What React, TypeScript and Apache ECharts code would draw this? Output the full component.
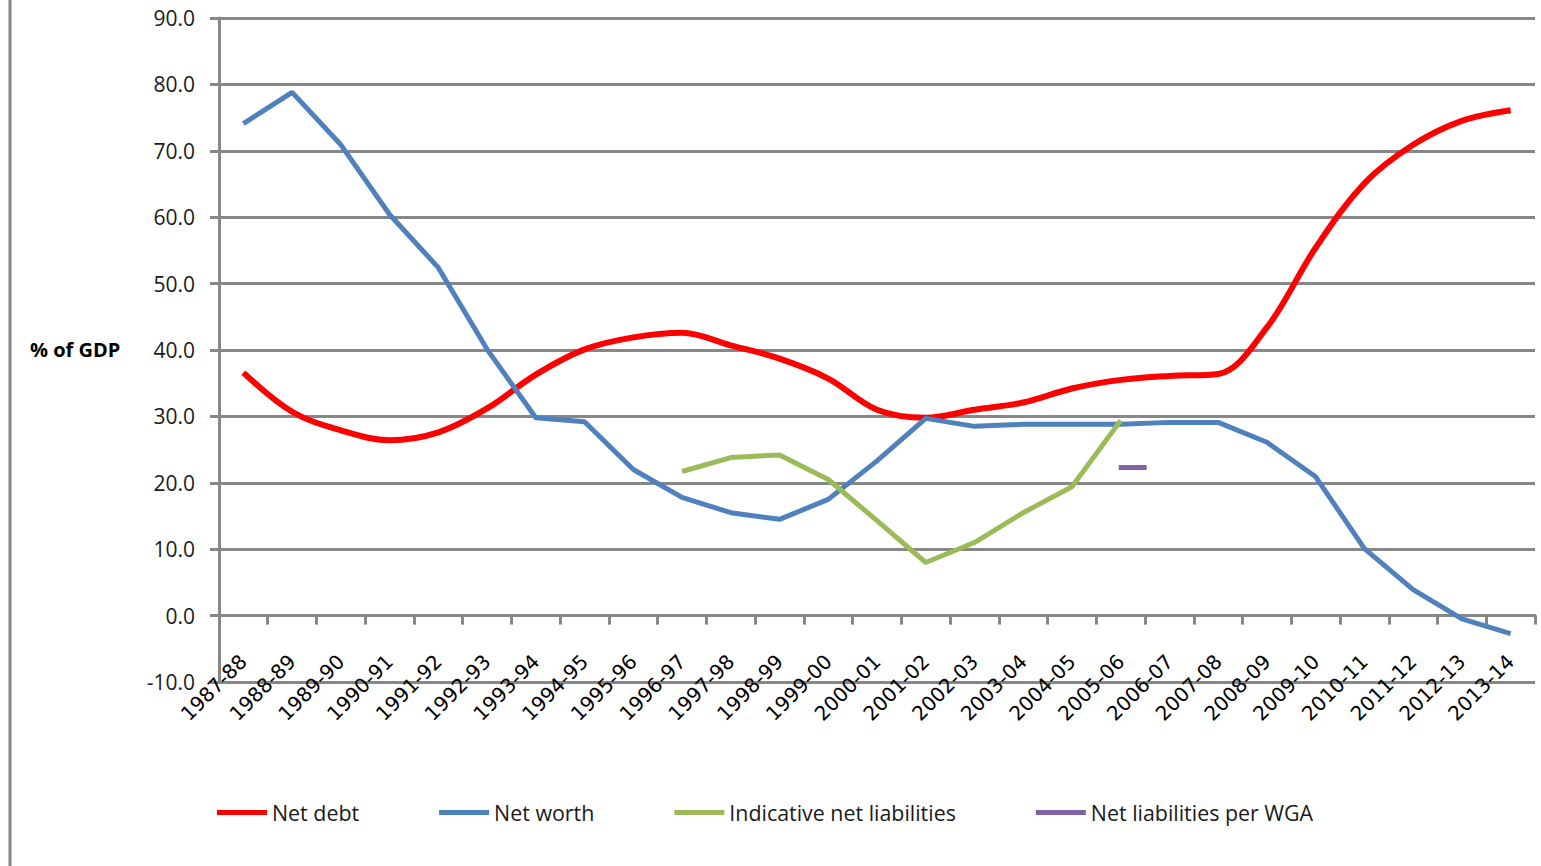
import React, { useEffect, useRef } from "react";
import * as echarts from "echarts";

const categories = [
  "1987-88", "1988-89", "1989-90", "1990-91", "1991-92", "1992-93", "1993-94",
  "1994-95", "1995-96", "1996-97", "1997-98", "1998-99", "1999-00", "2000-01",
  "2001-02", "2002-03", "2003-04", "2004-05", "2005-06", "2006-07", "2007-08",
  "2008-09", "2009-10", "2010-11", "2011-12", "2012-13", "2013-14",
];

const netDebt = [
  36.6, 30.7, 27.9, 26.4, 27.6, 31.2, 36.3, 40.1, 41.9, 42.6, 40.7, 38.7, 35.7,
  31.0, 29.8, 31.0, 32.1, 34.2, 35.5, 36.1, 36.4, 43.4, 55.4, 65.1, 70.9, 74.5, 76.1,
];

const netWorth = [
  74.1, 78.8, 70.9, 60.4, 52.4, 40.1, 29.8, 29.2, 22.0, 17.8, 15.5, 14.5, 17.5,
  23.3, 29.7, 28.5, 28.8, 28.8, 28.8, 29.1, 29.1, 26.1, 20.9, 10.1, 3.9, -0.5, -2.7,
];

const indicativeNetLiabilities = [
  null, null, null, null, null, null, null, null, null,
  21.7, 23.8, 24.2, 20.5, 14.3, 8.0, 11.0, 15.5, 19.4, 29.4,
  null, null, null, null, null, null, null, null,
];

const netLiabilitiesWGA = [
  null, null, null, null, null, null, null, null, null, null, null, null, null,
  null, null, null, null, null, 22.3,
  null, null, null, null, null, null, null, null,
];

const seriesNames = [
  "Net debt",
  "Net worth",
  "Indicative net liabilities",
  "Net liabilities per WGA",
];

const yAxisTitle = "% of GDP";

const GRID = "#878787";
const TEXT = "#1a1a1a";

export default function App() {
  const ref = useRef<HTMLDivElement>(null);

  useEffect(() => {
    if (!ref.current) return;
    const chart = echarts.init(ref.current, null, { renderer: "svg" });
    chart.setOption({
      animation: false,
      backgroundColor: "#ffffff",
      grid: { left: 219, right: 6, top: 18, bottom: 184, containLabel: false },
      xAxis: {
        type: "category",
        data: categories,
        boundaryGap: true,
        axisLine: { show: true, onZero: true, lineStyle: { color: GRID, width: 3 } },
        axisTick: { show: true, interval: 0, length: 9, lineStyle: { color: GRID, width: 3 } },
        axisLabel: {
          interval: 0,
          rotate: 45,
          margin: -24,
          color: "#000000",
          fontFamily: "DejaVu Sans",
          fontSize: 20,
        },
        splitLine: { show: false },
      },
      yAxis: {
        type: "value",
        min: -10,
        max: 90,
        interval: 10,
        axisLine: { show: true, lineStyle: { color: GRID, width: 3 } },
        axisTick: { show: true, length: 9, lineStyle: { color: GRID, width: 3 } },
        axisLabel: {
          margin: 24,
          color: TEXT,
          fontFamily: "Open Sans",
          fontSize: 21,
          formatter: (v: number) => v.toFixed(1),
        },
        splitLine: { show: true, lineStyle: { color: GRID, width: 3 } },
      },
      legend: {
        left: 212,
        top: 797,
        icon: "rect",
        itemWidth: 50,
        itemHeight: 5,
        itemGap: 80,
        textStyle: { color: TEXT, fontFamily: "Open Sans", fontSize: 21.4 },
        data: seriesNames,
      },
      graphic: [
        {
          type: "line",
          shape: { x1: 10, y1: 0, x2: 10, y2: 866 },
          style: { stroke: GRID, lineWidth: 3 },
        },
        {
          type: "text",
          left: 30,
          top: 339,
          style: {
            text: yAxisTitle,
            fill: "#000000",
            font: "bold 20px 'Open Sans'",
          },
        },
      ],
      series: [
        {
          name: seriesNames[0],
          type: "line",
          data: netDebt,
          smooth: 0.35,
          showSymbol: false,
          symbol: "none",
          color: "#ff0000",
          lineStyle: { color: "#ff0000", width: 6 },
        },
        {
          name: seriesNames[1],
          type: "line",
          data: netWorth,
          showSymbol: false,
          symbol: "none",
          color: "#4f81bd",
          lineStyle: { color: "#4f81bd", width: 5 },
        },
        {
          name: seriesNames[2],
          type: "line",
          data: indicativeNetLiabilities,
          showSymbol: false,
          symbol: "none",
          color: "#9bbb59",
          lineStyle: { color: "#9bbb59", width: 5 },
        },
        {
          name: seriesNames[3],
          type: "scatter",
          data: netLiabilitiesWGA,
          symbol: "rect",
          symbolSize: [28, 5],
          symbolOffset: [12, 0],
          color: "#8064a2",
          itemStyle: { color: "#8064a2", opacity: 1 },
        },
      ],
    });
    return () => chart.dispose();
  }, []);

  return (
    <div
      ref={ref}
      style={{ position: "fixed", left: 0, top: 0, width: 1541, height: 866 }}
    />
  );
}
